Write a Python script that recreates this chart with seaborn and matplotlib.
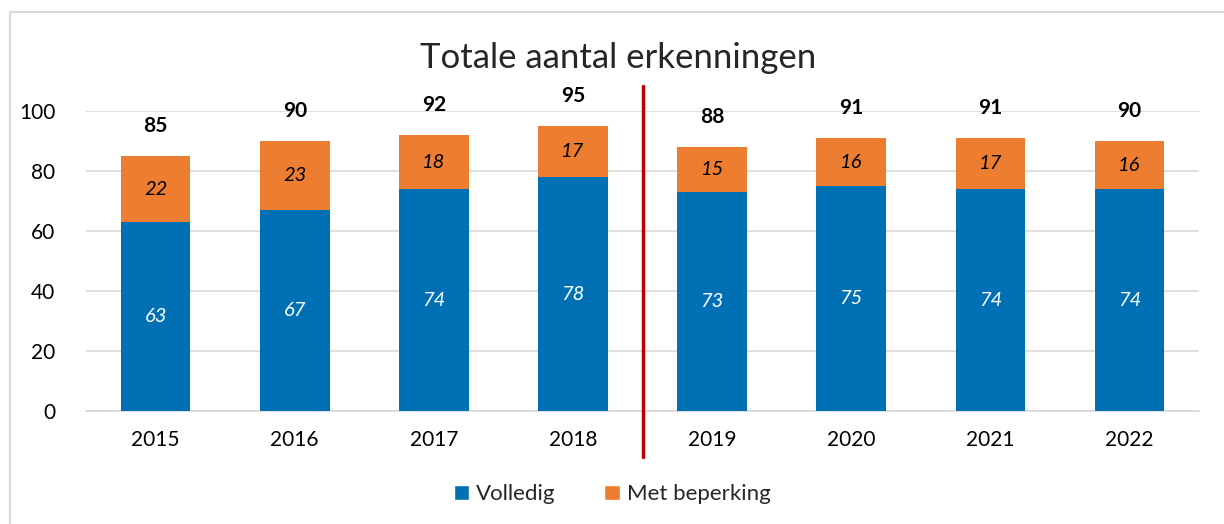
import numpy as np
import pandas as pd
import matplotlib
matplotlib.use("Agg")
import matplotlib.pyplot as plt
import seaborn as sns
from matplotlib.patches import Patch, Rectangle

years = ["2015", "2016", "2017", "2018", "2019", "2020", "2021", "2022"]
volledig = [63, 67, 74, 78, 73, 75, 74, 74]
met_beperking = [22, 23, 18, 17, 15, 16, 17, 16]
totaal = [85, 90, 92, 95, 88, 91, 91, 90]

blue = "#0070B4"
orange = "#ED7D31"
grid_grey = "#D9D9D9"

sns.set_style("white")
plt.rcParams["font.family"] = ["Lato", "DejaVu Sans"]

df = pd.DataFrame({"jaar": years, "volledig": volledig, "beperking": met_beperking})

fig = plt.figure(figsize=(12.24, 5.24), dpi=100)
ax = fig.add_axes([0.0703, 0.2156, 0.9093, 0.5725])

sns.barplot(data=df, x="jaar", y="volledig", color=blue, width=0.5,
            saturation=1, ax=ax, zorder=3, linewidth=0)
sns.barplot(data=df, x="jaar", y="beperking", color=orange, width=0.5,
            saturation=1, ax=ax, bottom=df["volledig"], zorder=3, linewidth=0)

ax.set_ylim(0, 100)
ax.set_xlim(-0.5, len(years) - 0.5)
ax.set_yticks(range(0, 101, 20))
ax.yaxis.grid(True, color=grid_grey, linewidth=1.2, zorder=0)
ax.set_axisbelow(True)
for s in ["top", "right", "left"]:
    ax.spines[s].set_visible(False)
ax.spines["bottom"].set_color(grid_grey)
ax.spines["bottom"].set_linewidth(1.2)
ax.tick_params(axis="both", length=0, labelsize=15, colors="#000000")
ax.tick_params(axis="x", pad=14)
ax.tick_params(axis="y", pad=22)
ax.set_xlabel("")
ax.set_ylabel("")

# labels in and above the bars
for i in range(len(years)):
    ax.text(i, volledig[i] / 2, str(volledig[i]), ha="center", va="center",
            color="white", fontsize=14.5, style="italic", zorder=4)
    ax.text(i, volledig[i] + met_beperking[i] / 2, str(met_beperking[i]),
            ha="center", va="center", color="black", fontsize=14.5,
            style="italic", zorder=4)
    ax.text(i, totaal[i] + 10, str(totaal[i]), ha="center", va="center",
            color="black", fontsize=15, fontweight="bold", zorder=4)

# red divider between 2018 and 2019
ax.plot([3.5, 3.5], [-15.3, 108.3], color="#C00000", linewidth=2.5,
        clip_on=False, zorder=5)

fig.text(0.505, 0.89, "Totale aantal erkenningen", ha="center", va="center",
         fontsize=25)

handles = [Patch(facecolor=blue, label="Volledig"),
           Patch(facecolor=orange, label="Met beperking")]
fig.legend(handles=handles, loc="center", bbox_to_anchor=(0.5, 0.057), ncol=2,
           frameon=False, fontsize=16, handlelength=0.7, handleheight=0.7,
           handletextpad=0.3, columnspacing=2.2)

fig.patches.append(Rectangle((10 / 1224, -0.1), 1.2, 1 - 12 / 524 + 0.1,
                             transform=fig.transFigure, fill=False,
                             edgecolor=grid_grey, linewidth=1.5))

fig.savefig("out.png", dpi=100)
